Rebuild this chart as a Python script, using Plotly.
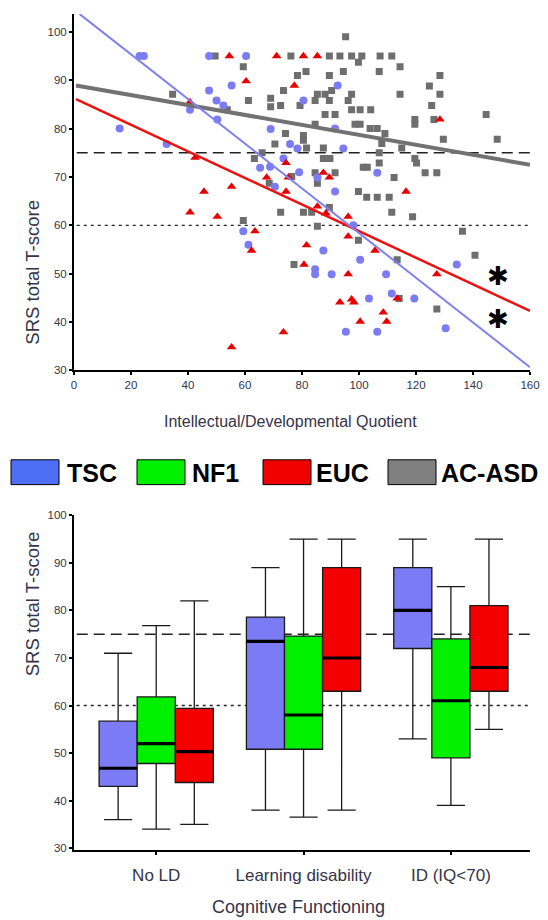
import plotly.graph_objects as go

# ---------------- data: scatter (IQ/DQ vs SRS total T-score) ----------------
tsc_iq = [23, 24.5, 16, 32.5, 40.7, 47.4, 47.4, 55.3, 50, 52.4, 50.3, 60.4, 69, 75.8, 78.4, 73.5,
          65.3, 68.8, 70.5, 79, 92.5, 80.5, 91.6, 94.5, 85.4, 106.4, 91.6, 59.4, 61.2, 98, 87.5,
          100.4, 134.3, 84.6, 84.6, 90.4, 109.5, 111.5, 103.5, 119.4, 95.4, 106.4, 130.4]
tsc_srs = [95, 95, 80, 76.8, 83.9, 95, 87.9, 88.9, 85.8, 84.8, 81.9, 95, 79.9, 76.8, 75.9, 73.8,
           71.9, 72.1, 68, 71, 88.9, 85.8, 80, 75.9, 69.9, 70.9, 67, 58.8, 56, 60, 54.8,
           52.9, 51.9, 50.9, 49.9, 49.9, 49.9, 45.9, 44.9, 44.9, 38, 38, 38.7]

euc_iq = [54.5, 71.1, 60.4, 77.3, 40.7, 42.5, 45.6, 55.3, 67.6, 74.4, 75.2, 74.4, 80.5, 85.4,
          87.5, 89.6, 116.5, 128.4, 40.7, 50.3, 63.5, 62.3, 55.3, 73.5, 85.4, 88.4, 96.2, 96.2,
          81.6, 105.6, 80.7, 96.2, 127.3, 93.3, 97.4, 98.2, 113.4, 108.5, 100.4, 109.7]
euc_srs = [95, 95, 89.8, 88.9, 85.5, 74, 67, 68, 69.9, 72.9, 69.9, 67, 95, 95,
           70.9, 69.9, 67, 81.9, 62.7, 61.8, 58.8, 54.8, 34.8, 37.9, 63.9, 62.5, 61.8, 57.7,
           55.9, 54.8, 51.9, 49.9, 49.9, 44.1, 44.7, 44.1, 44.9, 42, 40.1, 40.1]

asd_iq = [49.5, 76.1, 59.4, 78.4, 73.5, 34.6, 61.2, 69, 69, 72.5, 53.8, 74.2, 70.5, 63.3, 66,
          68.5, 76.4, 95.3, 89.6, 93.3, 97.4, 101, 107.4, 111.5, 99.8, 81.4, 89.6, 94.5, 107.1,
          114.4, 128.4, 124.7, 114.4, 128.4, 90.4, 85.4, 88.1, 97.4, 84.6, 89.6, 96.2, 79.3,
          125.5, 97.4, 100.4, 104.1, 88.1, 91.6, 144.6, 119.6, 119.6, 126.3, 98.6, 100.4, 84.6,
          103.9, 106.4, 109.1, 80.5, 80.5, 81.6, 87.5, 108, 115, 129.6, 148.5, 107.1, 119.6,
          120.2, 87.5, 89.8, 107.1, 101.5, 102.9, 84.6, 91.6, 123.2, 127.3, 112.3, 85.4, 99.8,
          102.7, 106.4, 110.6, 80.5, 83.4, 89.6, 85.4, 111.5, 118.8, 136.3, 140.7, 99.8, 113.4,
          77.2, 114.1, 127.3, 59.4, 72.5]
asd_srs = [95, 95, 92.8, 91, 87.9, 87.1, 85.8, 86.3, 84.5, 84.8, 83.9, 79, 76.8, 73.8, 75,
           68.7, 70.1, 99, 95, 95, 95, 95, 95, 95, 93.7, 91.8, 91, 91.8, 91.8,
           92.8, 91, 88.8, 87.1, 87.1, 87.9, 87.1, 87.1, 87.1, 85.8, 85.8, 85.8, 84.8,
           84.8, 83.9, 83.9, 83.9, 82.9, 82.9, 82.9, 81.9, 80.9, 81.9, 80.9, 80.9, 80.9,
           80, 80, 79, 78.6, 77.6, 76, 76, 76.9, 76, 77.8, 77.8, 75, 73.8,
           72.9, 73.8, 73.8, 72.9, 72, 72, 70.9, 70.9, 70.9, 70.9, 69.9, 68.7, 67,
           65.8, 65.8, 65.8, 62.7, 62.7, 63.7, 59.8, 62.7, 61.8, 58.8, 53.8, 56.9, 52.9,
           51.9, 44.9, 42.7, 61, 62.7]

# regression fits: (intercept, slope, x start, x end)
fit_tsc = (104.6, -0.462, 2, 160)
fit_euc = (86.3, -0.275, 0.7, 160)
fit_asd = (89.0, -0.103, 0.7, 160)

# significance markers (x, y)
star_x = [148.8, 148.8]
star_y = [49.6, 40.7]

# clinical cut-offs
cutoffs = [75, 60]

# ---------------- data: box plot by cognitive functioning ----------------
cog_labels = ["No LD", "Learning disability", "ID (IQ<70)"]
groups = ["TSC", "NF1", "EUC"]
box_low = {"TSC": [36, 38, 53], "NF1": [34, 36.5, 39], "EUC": [35, 38, 55]}
box_q1 = {"TSC": [43, 50.8, 72], "NF1": [47.8, 50.8, 49], "EUC": [43.8, 63, 63]}
box_med = {"TSC": [46.8, 73.5, 80], "NF1": [52, 58, 61], "EUC": [50.3, 70, 68]}
box_q3 = {"TSC": [56.7, 78.6, 89], "NF1": [61.8, 74.6, 74], "EUC": [59.4, 89, 81]}
box_high = {"TSC": [71, 89, 95], "NF1": [76.8, 95, 85], "EUC": [82, 95, 95]}

legend_names = ["TSC", "NF1", "EUC", "AC-ASD"]

# ---------------- styling ----------------
OFF = 8  # page body margin offset
W, H = 548 - OFF, 920 - OFF
ML, MR, MT, MB = 66, 18, 0, 70
PW, PH = W - ML - MR, H - MT - MB


def px_x(p):
    """reference pixel x -> paper x"""
    return (p - OFF - ML) / PW


def px_y(p):
    """reference pixel y -> paper y"""
    return (H - MB - (p - OFF)) / PH


box_fill = {"TSC": "#7b7bf5", "NF1": "#00f000", "EUC": "#f50000"}
legend_cols = ["#4d6ef5", "#00f000", "#f00000", "#808080"]
TXT = "#34344a"
FONT = "Arial, Liberation Sans, sans-serif"

fig = go.Figure()

# scatter points
fig.add_trace(go.Scatter(x=asd_iq, y=asd_srs, mode="markers", xaxis="x", yaxis="y",
                         marker=dict(symbol="square", size=7, color="#6e6e6e"), showlegend=False))
fig.add_trace(go.Scatter(x=tsc_iq, y=tsc_srs, mode="markers", xaxis="x", yaxis="y",
                         marker=dict(symbol="circle", size=8, color="#7c7cf2"), showlegend=False))
fig.add_trace(go.Scatter(x=euc_iq, y=euc_srs, mode="markers", xaxis="x", yaxis="y",
                         marker=dict(symbol="triangle-up", size=8.5, color="#e80000"), showlegend=False))

# regression lines
for fit, col, wd in [(fit_asd, "#727272", 4), (fit_euc, "#f01010", 2.5), (fit_tsc, "#8080f0", 2)]:
    b0, b1, xa, xb = fit
    fig.add_trace(go.Scatter(x=[xa, xb], y=[b0 + b1 * xa, b0 + b1 * xb], mode="lines",
                             xaxis="x", yaxis="y", line=dict(color=col, width=wd),
                             showlegend=False))

# box plot
bw = 0.2585
offsets = {"TSC": -bw, "NF1": 0.0, "EUC": bw}
for g in groups:
    xs = [i + offsets[g] for i in range(len(cog_labels))]
    fig.add_trace(go.Box(x=xs, q1=box_q1[g], median=box_med[g], q3=box_q3[g],
                         lowerfence=box_low[g], upperfence=box_high[g],
                         xaxis="x2", yaxis="y2", width=bw, whiskerwidth=0.74,
                         fillcolor=box_fill[g], line=dict(color="#1a1a1a", width=1.3),
                         boxpoints=False, showlegend=False, name=g))
    for xc, m in zip(xs, box_med[g]):
        fig.add_trace(go.Scatter(x=[xc - bw / 2, xc + bw / 2], y=[m, m], mode="lines",
                                 xaxis="x2", yaxis="y2", line=dict(color="black", width=3.2),
                                 showlegend=False, hoverinfo="skip"))

# cut-off lines in both panels
for ya in ["y", "y2"]:
    xd = "x domain" if ya == "y" else "x2 domain"
    fig.add_shape(type="line", xref=xd, x0=0.006, x1=1, yref=ya, y0=cutoffs[0], y1=cutoffs[0],
                  line=dict(color="#222", width=1.4, dash="11px,6px"), layer="below")
    fig.add_shape(type="line", xref=xd, x0=0.006, x1=1, yref=ya, y0=cutoffs[1], y1=cutoffs[1],
                  line=dict(color="#222", width=1.3, dash="3px,4px"), layer="below")

axis_common = dict(showgrid=False, zeroline=False, showline=True, linecolor="black", linewidth=2,
                   ticks="outside", ticklen=3, tickwidth=2, tickcolor="black",
                   tickfont=dict(family=FONT, size=11.5, color=TXT))

fig.update_layout(
    width=W, height=H, margin=dict(l=ML, r=MR, t=MT, b=MB),
    paper_bgcolor="white", plot_bgcolor="white", showlegend=False,
    xaxis=dict(domain=[0, 1], anchor="y", range=[0, 160], tickvals=list(range(0, 161, 20)),
               **axis_common),
    yaxis=dict(domain=[px_y(367), 1], anchor="x", range=[30, 103.7],
               tickvals=list(range(30, 101, 10)), **axis_common),
    xaxis2=dict(domain=[0, 1], anchor="y2", range=[-0.558, 2.537], tickvals=[0, 1, 2],
                ticktext=cog_labels, ticklabelstandoff=6,
                **{k: v for k, v in axis_common.items() if k != "tickfont"},
                tickfont=dict(family=FONT, size=17, color=TXT)),
    yaxis2=dict(domain=[0, px_y(513)], anchor="x2", range=[29.6, 100],
                tickvals=list(range(30, 101, 10)), **axis_common),
)

# significance asterisks
for sx, sy in zip(star_x, star_y):
    fig.add_annotation(x=sx, y=sy, xref="x", yref="y", text="\u2731", showarrow=False,
                       font=dict(family="DejaVu Sans", size=26, color="black"))

# axis titles
fig.add_annotation(x=px_x(290), y=px_y(418), xref="paper", yref="paper",
                   text="Intellectual/Developmental Quotient", showarrow=False,
                   font=dict(family=FONT, size=16, color=TXT))
fig.add_annotation(x=px_x(298), y=px_y(919), xref="paper", yref="paper",
                   text="Cognitive Functioning", showarrow=False,
                   font=dict(family=FONT, size=18, color=TXT))
for cy in [193, 677]:
    fig.add_annotation(x=px_x(20), y=px_y(cy), xref="paper", yref="paper",
                       text="SRS total T-score", showarrow=False, textangle=-90,
                       font=dict(family=FONT, size=18.5, color=TXT))

# legend (manual swatches)
sw_x = [11, 137, 263, 388]
tx_x = [65, 190, 314, 439]
for name, col, sx, tx in zip(legend_names, legend_cols, sw_x, tx_x):
    fig.add_shape(type="rect", xref="paper", yref="paper", x0=px_x(sx), x1=px_x(sx + 48),
                  y0=px_y(482), y1=px_y(457), fillcolor=col, line=dict(color="black", width=1))
    fig.add_annotation(x=px_x(tx), y=px_y(470), xref="paper", yref="paper", xanchor="left",
                       text="<b>" + name + "</b>", showarrow=False,
                       font=dict(family=FONT, size=25, color="black"))

fig.write_html("out.html")
